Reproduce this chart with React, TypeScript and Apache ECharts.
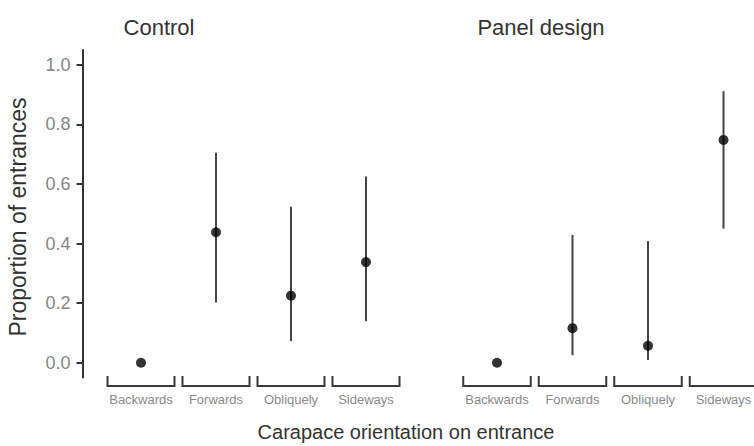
import React, { useEffect, useRef } from "react";
import * as echarts from "echarts";

const categories = ["Backwards", "Forwards", "Obliquely", "Sideways"];
const panels = ["Control", "Panel design"];
const controlMean = [0, 0.438, 0.225, 0.338];
const controlLow = [0, 0.202, 0.073, 0.139];
const controlHigh = [0, 0.705, 0.524, 0.625];
const panelMean = [0, 0.116, 0.057, 0.748];
const panelLow = [0, 0.025, 0.009, 0.45];
const panelHigh = [0, 0.429, 0.409, 0.912];
const yTicks = [0, 0.2, 0.4, 0.6, 0.8, 1.0];
const xTitle = "Carapace orientation on entrance";
const yTitle = "Proportion of entrances";

const FONT = "Liberation Sans, Arial, sans-serif";

export default function App() {
  const ref = useRef<HTMLDivElement>(null);
  useEffect(() => {
    if (!ref.current) return;
    const chart = echarts.init(ref.current, null, { renderer: "svg" });

    const errorRender = (params: any, api: any) => {
      const x = api.value(0);
      const lo = api.coord([x, api.value(1)]);
      const hi = api.coord([x, api.value(2)]);
      if (api.value(1) === api.value(2)) return null;
      return {
        type: "line",
        shape: { x1: lo[0], y1: lo[1], x2: hi[0], y2: hi[1] },
        style: { stroke: "#444", lineWidth: 2 },
      };
    };
    const bracketRender = (params: any, api: any) => {
      const x = api.value(0);
      const c = api.coord([x, 0]);
      const bw = api.size([1, 0])[0];
      const cs = params.coordSys;
      const bottom = cs.y + cs.height;
      const x0 = c[0] - bw / 2 + 4;
      const x1 = c[0] + bw / 2 - 4;
      return {
        type: "polyline",
        shape: {
          points: [
            [x0, bottom - 1.5],
            [x0, bottom + 8.5],
            [x1, bottom + 8.5],
            [x1, bottom - 1.5],
          ],
        },
        style: { stroke: "#3a3a3a", lineWidth: 2, fill: null },
      };
    };

    const means = [controlMean, panelMean];
    const lows = [controlLow, panelLow];
    const highs = [controlHigh, panelHigh];

    const series: any[] = [];
    [0, 1].forEach((g) => {
      series.push({
        type: "custom",
        xAxisIndex: g,
        yAxisIndex: g,
        renderItem: bracketRender,
        clip: false,
        silent: true,
        encode: { x: 0, y: 1 },
        data: categories.map((_, i) => [i, 0]),
      });
      series.push({
        type: "custom",
        xAxisIndex: g,
        yAxisIndex: g,
        renderItem: errorRender,
        clip: false,
        encode: { x: 0, y: [1, 2] },
        data: categories.map((_, i) => [i, lows[g][i], highs[g][i]]),
      });
      series.push({
        type: "scatter",
        xAxisIndex: g,
        yAxisIndex: g,
        symbolSize: 10,
        itemStyle: { color: "#000" },
        data: categories.map((_, i) => [i, means[g][i]]),
        z: 5,
      });
    });

    const xAxisBase = {
      type: "category",
      data: categories,
      axisLine: { show: false },
      axisTick: { show: false },
      splitLine: { show: false },
      axisLabel: {
        interval: 0,
        color: "#8a8a8a",
        fontSize: 13,
        fontFamily: FONT,
        margin: 15,
      },
    };

    const textStyle = (text: string, size: number) => ({
      text,
      fill: "#333",
      fontSize: size,
      fontFamily: FONT,
      align: "center",
      verticalAlign: "middle",
    });

    chart.setOption({
      animation: false,
      grid: [
        { left: 103.5, width: 300, top: 50, height: 327.6 },
        { left: 459.25, width: 302, top: 50, height: 327.6 },
      ],
      xAxis: [
        { ...xAxisBase, gridIndex: 0 },
        { ...xAxisBase, gridIndex: 1 },
      ],
      yAxis: [
        {
          type: "value",
          gridIndex: 0,
          min: -0.05,
          max: 1.05,
          offset: 21,
          axisLine: { show: true, lineStyle: { color: "#333", width: 2 } },
          axisTick: {
            show: true,
            length: 6,
            customValues: yTicks,
            lineStyle: { color: "#333", width: 2 },
          },
          axisLabel: {
            customValues: yTicks,
            formatter: (v: number) => v.toFixed(1),
            color: "#858585",
            fontSize: 18,
            fontFamily: FONT,
            margin: 12,
          },
          splitLine: { show: false },
        },
        {
          type: "value",
          gridIndex: 1,
          min: -0.05,
          max: 1.05,
          show: false,
          splitLine: { show: false },
        },
      ],
      graphic: [
        { type: "text", x: 159, y: 27, style: textStyle(panels[0], 22) },
        { type: "text", x: 541, y: 27, style: textStyle(panels[1], 22) },
        { type: "text", x: 406, y: 432, style: textStyle(xTitle, 20) },
        {
          type: "text",
          x: 18,
          y: 217,
          rotation: Math.PI / 2,
          style: textStyle(yTitle, 23),
        },
      ],
      series,
    });
    return () => chart.dispose();
  }, []);
  return (
    <div
      style={{
        position: "absolute",
        left: 0,
        top: 0,
        width: 754,
        height: 446,
        overflow: "hidden",
      }}
    >
      <div ref={ref} style={{ width: 770, height: 446 }} />
    </div>
  );
}
